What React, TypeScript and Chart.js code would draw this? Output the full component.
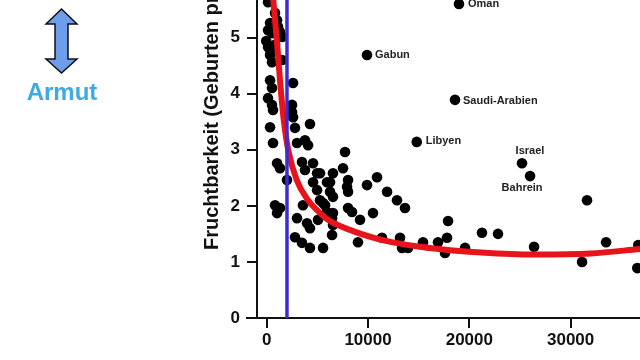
import React, { useEffect, useRef } from "react";
import { Chart, registerables } from "chart.js";

Chart.register(...registerables);

// GDP per capita (x) and fertility (births per woman, y) — unlabeled countries
const gdpX = [
  130, 820, 330, 1120, 130, 1310, 520, 1510, 130, 330, 330, 1510, 520, 330, 2600, 520,
  130, 520, 2500, 620, 2500, 2600, 330, 2790, 4270, 620, 2990, 3780, 4080, 1020, 1310,
  3480, 4570, 3780, 4970, 2000, 4570, 6250, 4970, 820, 1310, 1020, 3580, 5260, 5760,
  2990, 3980, 4270, 5060, 6450, 6450, 2790, 3480, 4270, 5560, 6540, 7730, 7530, 6540,
  5260, 5950, 8030, 7930, 9900, 10890, 6250, 6540, 8030, 11880, 12860, 13650, 5560,
  8030, 8420, 10490, 6540, 5950, 9210, 9010, 11380, 13160, 13360, 13950, 15430, 16910,
  17900, 17800, 17600, 19580, 21250, 22830, 26390, 31620, 33500, 31130, 36680, 36580,
  -50, 820, 1020,
];
const fertY = [
  5.63, 5.44, 5.26, 5.19, 5.13, 5.1, 5.08, 5.01, 4.83, 4.78, 4.69, 4.6, 4.56, 4.24, 4.19, 4.1,
  3.92, 3.8, 3.8, 3.71, 3.67, 3.58, 3.4, 3.39, 3.46, 3.12, 3.12, 3.17, 3.08, 2.76, 2.67,
  2.78, 2.76, 2.64, 2.58, 2.46, 2.42, 2.42, 2.28, 2.01, 1.96, 1.87, 2.01, 2.1, 2.01,
  1.78, 1.69, 1.6, 1.75, 1.78, 1.48, 1.44, 1.34, 1.25, 1.25, 1.66, 2.96, 2.67, 2.58,
  2.58, 2.42, 2.46, 2.34, 2.37, 2.51, 2.25, 2.16, 2.25, 2.25, 2.1, 1.96, 2.05,
  1.96, 1.89, 1.87, 1.87, 1.89, 1.75, 1.35, 1.43, 1.43, 1.25, 1.25, 1.35, 1.35,
  1.73, 1.43, 1.16, 1.25, 1.52, 1.5, 1.27, 2.1, 1.35, 1.0, 1.3, 0.89,
  4.94, 4.87, 5.31,
];

// Labeled countries
const labeledNames = ["Oman", "Gabun", "Saudi-Arabien", "Libyen", "Israel", "Bahrein"];
const labeledX = [18980, 9900, 18590, 14810, 25200, 26000];
const labeledY = [5.6, 4.69, 3.89, 3.14, 2.76, 2.53];

// Fitted trend curve
const curveX = [450, 650, 1000, 1350, 1700, 2130, 2960, 4080, 4940, 6050, 8520, 11880, 15130, 18090, 22000, 26690, 32000, 36850];
const curveY = [6.05, 5.67, 4.95, 4.15, 3.5, 2.99, 2.46, 2.1, 1.93, 1.75, 1.55, 1.37, 1.27, 1.21, 1.16, 1.13, 1.15, 1.23];

// Poverty threshold line
const povertyX = 2000;
const povertyYRange = [0, 6];

const xTickValues = [0, 10000, 20000, 30000];
const yTickValues = [0, 1, 2, 3, 4, 5];
const yTitle = "Fruchtbarkeit (Geburten pro Frau)";
const sideLabel = "Armut";

const labelPlacement: Record<string, { dx: number; dy: number; align: CanvasTextAlign }> = {
  Oman: { dx: 9, dy: 0, align: "left" },
  Gabun: { dx: 8, dy: 0, align: "left" },
  "Saudi-Arabien": { dx: 8, dy: 1, align: "left" },
  Libyen: { dx: 9, dy: -1, align: "left" },
  Israel: { dx: 8, dy: -12, align: "center" },
  Bahrein: { dx: -8, dy: 12, align: "center" },
};

const FONT = "'Liberation Sans', Arial, sans-serif";

export default function App() {
  const ref = useRef<HTMLCanvasElement>(null);

  useEffect(() => {
    if (!ref.current) return;
    const labelPlugin = {
      id: "extras",
      afterDraw(chart: any) {
        const ctx = chart.ctx;
        const meta = chart.getDatasetMeta(1);
        ctx.save();
        ctx.font = `bold 11px ${FONT}`;
        ctx.fillStyle = "#222";
        ctx.textBaseline = "middle";
        meta.data.forEach((el: any, i: number) => {
          const name = labeledNames[i];
          const p = labelPlacement[name];
          ctx.textAlign = p.align;
          ctx.fillText(name, el.x + p.dx, el.y + p.dy);
        });
        ctx.restore();
        const yb = chart.scales.y.getPixelForValue(0);
        ctx.save();
        ctx.strokeStyle = "#111";
        ctx.lineWidth = 2;
        ctx.beginPath();
        ctx.moveTo(246, yb);
        ctx.lineTo(chart.chartArea.left, yb);
        ctx.stroke();
        ctx.restore();
        ctx.save();
        ctx.translate(212.5, 250);
        ctx.rotate(-Math.PI / 2);
        ctx.font = `bold 20px ${FONT}`;
        ctx.fillStyle = "#111";
        ctx.textAlign = "left";
        ctx.textBaseline = "middle";
        ctx.fillText(yTitle, 0, 0);
        ctx.restore();
      },
    };

    const chart = new Chart(ref.current, {
      type: "scatter",
      data: {
        datasets: [
          {
            label: "Länder",
            data: gdpX.map((x, i) => ({ x, y: fertY[i] })),
            backgroundColor: "#000",
            borderWidth: 0,
            pointRadius: 5.3,
            order: 4,
          },
          {
            label: "Markiert",
            data: labeledX.map((x, i) => ({ x, y: labeledY[i] })),
            backgroundColor: "#000",
            borderWidth: 0,
            pointRadius: 5.3,
            order: 3,
          },
          {
            type: "line",
            label: "Trend",
            data: curveX.map((x, i) => ({ x, y: curveY[i] })),
            borderColor: "#E8141C",
            borderWidth: 6,
            pointRadius: 0,
            cubicInterpolationMode: "monotone",
            fill: false,
            order: 2,
          },
          {
            type: "line",
            label: "Armutsgrenze",
            data: povertyYRange.map((y) => ({ x: povertyX, y })),
            borderColor: "#3B2CCF",
            borderWidth: 3.5,
            pointRadius: 0,
            fill: false,
            order: 1,
          },
        ] as any,
      },
      options: {
        responsive: false,
        animation: false,
        layout: { autoPadding: false, padding: 0 },
        plugins: { legend: { display: false }, tooltip: { enabled: false } },
        scales: {
          x: {
            type: "linear",
            min: -960,
            max: 36850,
            afterFit: (s: any) => {
              s.height = 42;
              s.paddingLeft = 0;
              s.paddingRight = 0;
            },
            afterBuildTicks: (s: any) => {
              s.ticks = xTickValues.map((v) => ({ value: v }));
            },
            ticks: {
              includeBounds: false,
              padding: 2,
              color: "#111",
              font: { family: FONT, size: 17, weight: "bold" },
              maxRotation: 0,
              callback: (v: any) => String(v),
            },
            grid: { display: true, drawOnChartArea: false, drawTicks: true, tickLength: 10, color: "#111", lineWidth: 2 },
            border: { display: true, color: "#111", width: 2 },
          },
          y: {
            type: "linear",
            min: 0,
            max: 5.67,
            afterFit: (s: any) => {
              s.width = 257;
              s.paddingTop = 0;
              s.paddingBottom = 0;
            },
            afterBuildTicks: (s: any) => {
              s.ticks = yTickValues.map((v) => ({ value: v }));
            },
            ticks: {
              includeBounds: false,
              padding: 7,
              color: "#111",
              font: { family: FONT, size: 17, weight: "bold" },
              callback: (v: any) => String(v),
            },
            grid: { display: true, drawOnChartArea: false, drawTicks: true, tickLength: 10, color: "#111", lineWidth: 2 },
            border: { display: true, color: "#111", width: 2 },
          },
        },
      },
      plugins: [labelPlugin],
    } as any);
    return () => chart.destroy();
  }, []);

  return (
    <div style={{ position: "fixed", left: 0, top: 0, width: 640, height: 360, background: "#fff" }}>
      <canvas ref={ref} width={640} height={360} style={{ position: "absolute", left: 0, top: 0 }} />
      <svg width={130} height={110} style={{ position: "absolute", left: 0, top: 0 }}>
        <polygon
          points="61.5,9 77,24 68,24 68,59 77,59 61.5,73 46,59 55,59 55,24 46,24"
          fill="#6E9DEC"
          stroke="#111"
          strokeWidth={1.5}
          strokeLinejoin="miter"
        />
        <text
          x={62}
          y={100}
          textAnchor="middle"
          fontFamily="'Liberation Sans', Arial, sans-serif"
          fontWeight="bold"
          fontSize={24}
          fill="#3DAAE0"
        >
          {sideLabel}
        </text>
      </svg>
    </div>
  );
}
